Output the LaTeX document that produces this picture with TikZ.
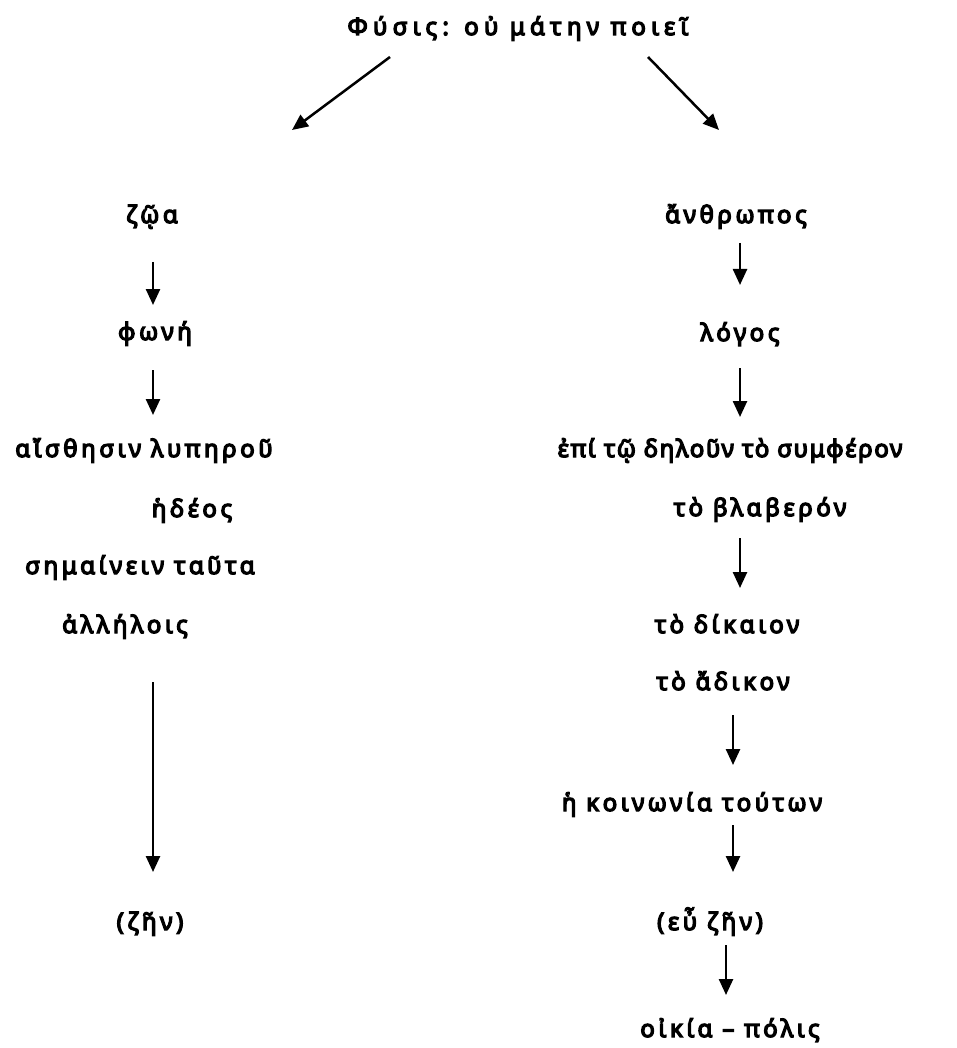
\documentclass[tikz,border=0pt]{standalone}
\usepackage{fontspec}
\newfontfamily\gkfont{Noto Sans}[FakeBold=5.5,LetterSpace=15]
\newfontfamily\gkfontn{Noto Sans}[FakeBold=5.5,LetterSpace=7]
\usetikzlibrary{arrows.meta,calc}
\begin{document}
\begin{tikzpicture}[x=1pt,y=-1pt,
  lbl/.style={anchor=base,inner sep=0pt,font=\gkfont\fontsize{24}{28}\selectfont},
  arr/.style={line width=2.5pt,-{Triangle[length=16pt,width=14pt]}}]
\useasboundingbox (0,0) rectangle (957,1048);
% column coordinates
\coordinate (cL) at (153,0);
\coordinate (cRa) at (740,0);
\coordinate (cRb) at (733,0);
\coordinate (cRc) at (726,0);
% nodes
\node[lbl] (title) at (518,35) {\addfontfeatures{LetterSpace=22}Φύσις: οὐ μάτην ποιεῖ};
\node[lbl] (zoa) at (152,223) {ζῷα};
\node[lbl] (fone) at (155,340) {φωνή};
\node[lbl] (aisth) at (144,457) {αἴσθησιν λυπηροῦ};
\node[lbl] (hdeos) at (192,517) {ἡδέος};
\node[lbl] (sem) at (140,574) {σημαίνειν ταῦτα};
\node[lbl] (allel) at (125,633) {ἀλλήλοις};
\node[lbl] (zen) at (150,930) {(ζῆν)};
\node[lbl] (anthr) at (736,223) {ἄνθρωπος};
\node[lbl] (logos) at (740,341) {λόγος};
\node[lbl,font=\gkfontn\fontsize{24}{28}\selectfont] (epi) at (730,457) {ἐπί τῷ δηλοῦν τὸ συμφέρον};
\node[lbl] (blab) at (760,516) {τὸ βλαβερόν};
\node[lbl] (dik) at (727,633) {τὸ δίκαιον};
\node[lbl] (adik) at (723,690) {τὸ ἄδικον};
\node[lbl] (koin) at (692,811) {ἡ κοινωνία τούτων};
\node[lbl] (euzen) at (710,930) {(εὖ ζῆν)};
\node[lbl] (oikia) at (730,1037) {οἰκία – πόλις};
% connectors
\draw[arr] ($(title.base)+(-128,22)$) -- ($(zoa.base)+(140,-93)$);
\draw[arr] ($(title.base)+(130,22)$) -- ($(anthr.base)+(-17,-93)$);
\draw[arr] ($(zoa.base -| cL)+(0,39)$) -- ($(fone.base -| cL)+(0,-35)$);
\draw[arr] ($(fone.base -| cL)+(0,30)$) -- ($(aisth.base -| cL)+(0,-42)$);
\draw[arr] ($(allel.base -| cL)+(0,49)$) -- ($(zen.base -| cL)+(0,-58)$);
\draw[arr] ($(anthr.base -| cRa)+(0,20)$) -- ($(logos.base -| cRa)+(0,-56)$);
\draw[arr] ($(logos.base -| cRa)+(0,27)$) -- ($(epi.base -| cRa)+(0,-40)$);
\draw[arr] ($(blab.base -| cRa)+(0,22)$) -- ($(dik.base -| cRa)+(0,-45)$);
\draw[arr] ($(adik.base -| cRb)+(0,25)$) -- ($(koin.base -| cRb)+(0,-46)$);
\draw[arr] ($(koin.base -| cRb)+(0,14)$) -- ($(euzen.base -| cRb)+(0,-58)$);
\draw[arr] ($(euzen.base -| cRc)+(0,15)$) -- ($(oikia.base -| cRc)+(0,-42)$);
\end{tikzpicture}
\end{document}
